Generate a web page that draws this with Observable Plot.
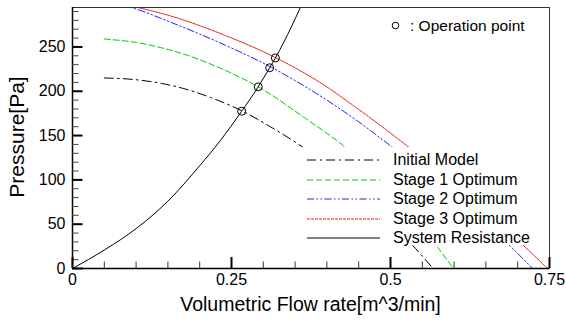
<!DOCTYPE html>
<html><head><meta charset="utf-8">
<script src="https://cdn.jsdelivr.net/npm/d3@7"></script>
<script src="https://cdn.jsdelivr.net/npm/@observablehq/plot@0.6"></script>
<style>
body{margin:0;background:#fff;font-family:"Liberation Sans",Arial,sans-serif;}
#wrap{position:relative;width:566px;height:322px;overflow:hidden;}
#legend{position:absolute;left:300px;top:147px;width:247px;height:98px;background:#fff;}
.row{position:absolute;left:0;height:20px;width:247px;}
.row svg{position:absolute;left:7px;top:0;}
.row span{position:absolute;left:93px;top:0px;font-size:16px;line-height:19px;color:#000;white-space:nowrap;}
#op{position:absolute;left:391px;top:16px;font-size:15.5px;line-height:20px;white-space:nowrap;}
#op svg{vertical-align:middle;margin-right:10px;position:relative;top:-1px;}
#xt{position:absolute;left:72px;width:477px;top:293px;text-align:center;font-size:19.5px;}
#yt{position:absolute;left:16.7px;top:136.7px;transform:translate(-50%,-50%) rotate(-90deg);font-size:21px;white-space:nowrap;}
svg .tk line{vector-effect:none;}
</style></head><body><div id="wrap"></div>
<script>
// Fan curves and system resistance (flow rate m^3/min, pressure Pa)
const qInitial = [0.05, 0.10, 0.175, 0.217, 0.266, 0.311, 0.366, 0.45, 0.535, 0.567];
const pInitial = [215, 213, 203, 193, 178, 160, 135, 87, 26, 0];
const qStage1 = [0.05, 0.10, 0.17, 0.248, 0.292, 0.363, 0.426, 0.50, 0.573, 0.599];
const pStage1 = [259, 255, 243, 221, 205, 171, 138.5, 90, 25, 0];
const qStage2 = [0.05, 0.0914, 0.154, 0.24, 0.31, 0.389, 0.449, 0.50, 0.60, 0.69, 0.7235];
const pStage2 = [301, 294.6, 278, 252, 228, 195, 166, 138.5, 84, 24, 0];
const qStage3 = [0.05, 0.102, 0.154, 0.24, 0.319, 0.389, 0.449, 0.525, 0.62, 0.712, 0.747];
const pStage3 = [302, 294.6, 285, 263, 238, 210, 180, 139, 85, 24, 0];
const qSystem = [0, 0.05, 0.10, 0.15, 0.20, 0.232, 0.266, 0.292, 0.31, 0.319, 0.332, 0.358, 0.365];
const pSystem = [0, 20.8, 45, 76, 116, 144, 177.5, 205, 226.5, 237.5, 255, 294, 305];
const qOperation = [0.266, 0.292, 0.310, 0.319];
const pOperation = [177.5, 205, 226.5, 237.5];

const seriesNames = ["Initial Model", "Stage 1 Optimum", "Stage 2 Optimum", "Stage 3 Optimum", "System Resistance"];
const seriesColors = ["#000000", "#00cc00", "#2020ff", "#ee1c1c", "#000000"];
const seriesDash = ["9,4,2,4", "6,3", "7,2.5,1.5,2.5,1.5,2.5", "3,1", null];

const xMajor = [0, 0.25, 0.5, 0.75];
const xMinor = d3.range(0, 0.7501, 0.05).filter(v => Math.abs(v / 0.25 - Math.round(v / 0.25)) > 1e-6);
const yMajor = [0, 50, 100, 150, 200, 250];
const yMinor = d3.range(10, 291, 10).filter(v => v % 50 !== 0);

const W = 566, H = 322, ML = 72, MR = 17, MT = 7, MB = 54;
const plotW = W - ML - MR, plotH = H - MT - MB;

const allQ = [qInitial, qStage1, qStage2, qStage3, qSystem];
const allP = [pInitial, pStage1, pStage2, pStage3, pSystem];
const lineMarks = allQ.map((qs, i) => Plot.line(qs.map((q, j) => ({q, p: allP[i][j]})), {
  x: "q", y: "p", stroke: seriesColors[i], strokeWidth: 1,
  strokeDasharray: seriesDash[i] || undefined, curve: "monotone-x", clip: true
}));
const ops = qOperation.map((q, i) => ({q, p: pOperation[i]}));

// inward ticks: rules inset so only a short stub remains at the axis;
// stroke set explicitly on each line element when rendered
const styled = (col, sw) => (index, scales, values, dims, context, next) => {
  const g = next(index, scales, values, dims, context);
  g.setAttribute("class", "tk");
  g.querySelectorAll("line").forEach(l => {
    l.setAttribute("stroke", col);
    l.setAttribute("stroke-width", sw);
    l.style.stroke = col;
    l.style.strokeWidth = sw + "px";
    l.style.strokeOpacity = "1";
  });
  return g;
};
const yTicks = (vals, len, sw, col) => Plot.ruleY(vals, {insetRight: plotW - len, stroke: col, strokeWidth: sw, render: styled(col, sw)});
const xTicks = (vals, len, sw, col) => Plot.ruleX(vals, {insetTop: plotH - len, stroke: col, strokeWidth: sw, render: styled(col, sw)});

const chart = Plot.plot({
  width: W, height: H,
  marginLeft: ML, marginRight: MR, marginTop: MT, marginBottom: MB,
  style: {fontFamily: "'Liberation Sans', Arial, sans-serif", fontSize: "16px"},
  x: {domain: [0, 0.75]},
  y: {domain: [0, 294.5]},
  marks: [
    ...lineMarks,
    Plot.dot(ops, {x: "q", y: "p", r: 4, stroke: "#000", strokeWidth: 1, fill: "none"}),
    Plot.frame({stroke: "#333", strokeWidth: 1}),
    Plot.axisY(yMajor, {tickSize: 0, tickPadding: 7, fontSize: 16, label: null}),
    Plot.axisX(xMajor, {tickSize: 0, tickPadding: 5, fontSize: 16, label: null, tickFormat: d => String(d)}),
    Plot.ruleX([0], {stroke: "#000", strokeWidth: 1.5}),
    Plot.ruleY([0], {stroke: "#000", strokeWidth: 1.5}),
    yTicks(yMinor, 6.5, 1, "#444"),
    yTicks(yMajor, 10.5, 2, "#000"),
    xTicks(xMinor, 6.5, 1, "#333"),
    xTicks(xMajor, 11, 2, "#000")
  ]
});
const wrap = document.getElementById("wrap");
wrap.appendChild(chart);

// legend box (white, hides curves behind it like the original)
const lg = document.createElement("div");
lg.id = "legend";
const rowTops = [3, 23, 42, 61.5, 81];
seriesNames.forEach((name, i) => {
  const row = document.createElement("div");
  row.className = "row";
  row.style.top = rowTops[i] + "px";
  row.innerHTML = `<svg width="74" height="20"><line x1="0" x2="73" y1="10" y2="10" stroke="${seriesColors[i]}" stroke-width="1" ${seriesDash[i] ? `stroke-dasharray="${seriesDash[i]}"` : ""}/></svg><span>${name}</span>`;
  lg.appendChild(row);
});
wrap.appendChild(lg);

const op = document.createElement("div");
op.id = "op";
op.innerHTML = `<svg width="9" height="9"><circle cx="4.5" cy="4.5" r="3.3" fill="none" stroke="#000" stroke-width="1"/></svg>: Operation point`;
wrap.appendChild(op);

const xt = document.createElement("div");
xt.id = "xt"; xt.textContent = "Volumetric Flow rate[m^3/min]";
wrap.appendChild(xt);
const yt = document.createElement("div");
yt.id = "yt"; yt.textContent = "Pressure[Pa]";
wrap.appendChild(yt);
</script>
</body></html>
